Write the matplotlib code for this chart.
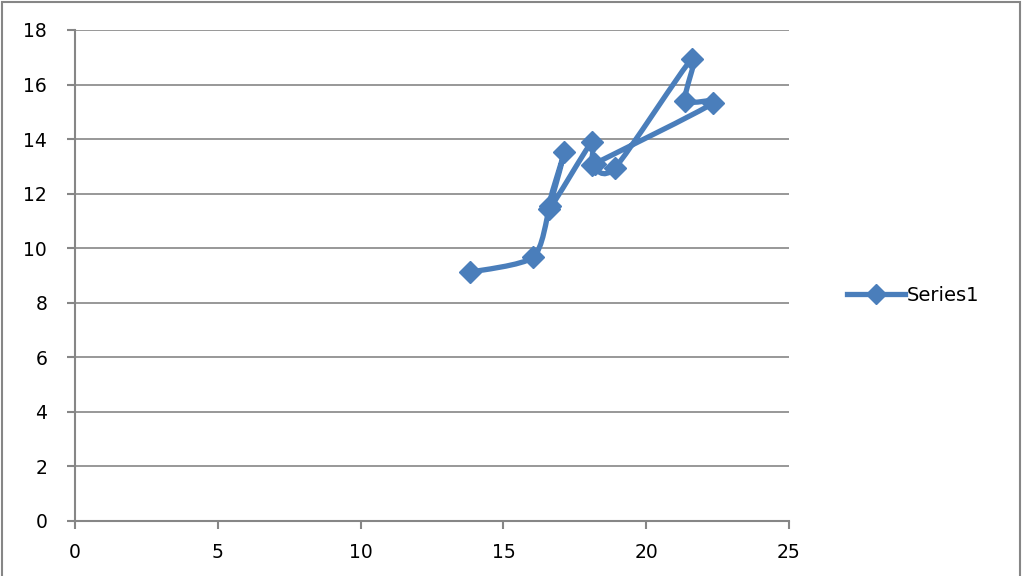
import numpy as np
import matplotlib.pyplot as plt
from matplotlib.path import Path
from matplotlib.patches import PathPatch, Rectangle

# data (in plotting order)
x_vals = [13.83, 16.04, 16.63, 17.14, 16.6, 18.09, 18.12, 18.91, 21.6, 21.36, 22.33, 18.2]
y_vals = [9.12, 9.67, 11.56, 13.51, 11.45, 13.88, 13.04, 12.95, 16.94, 15.4, 15.31, 13.1]
x_ticks = [0, 5, 10, 15, 20, 25]
y_ticks = [0, 2, 4, 6, 8, 10, 12, 14, 16, 18]
series_name = "Series1"

blue = "#4A7EBB"
grey = "#868686"


def smooth_path(xs, ys):
    # excel style smoothed line: cubic bezier through every point
    pts = np.column_stack([xs, ys])
    n = len(pts)
    verts = [pts[0]]
    codes = [Path.MOVETO]
    for i in range(n - 1):
        p0 = pts[max(i - 1, 0)]
        p1 = pts[i]
        p2 = pts[i + 1]
        p3 = pts[min(i + 2, n - 1)]
        c1 = p1 + (p2 - p0) / 8.0
        c2 = p2 - (p3 - p1) / 8.0
        verts += [c1, c2, p2]
        codes += [Path.CURVE4] * 3
    return Path(verts, codes)


fig = plt.figure(figsize=(10.24, 5.76), dpi=100)
ax = fig.add_axes([0.0732, 0.0955, 0.6973, 0.8525])

# chart border
fig.patches.append(Rectangle((0.002, -0.01), 0.994, 1.006, transform=fig.transFigure,
                             fill=False, edgecolor=grey, linewidth=1.5))

ax.add_patch(PathPatch(smooth_path(x_vals, y_vals), facecolor="none", edgecolor=blue,
                       linewidth=3.8, capstyle="round", joinstyle="round", zorder=3))
ax.plot(x_vals, y_vals, linestyle="none", marker="D", markersize=11, color=blue, zorder=4)

# proxy for legend
ax.plot([], [], color=blue, linewidth=3.8, marker="D", markersize=10, label=series_name)

ax.set_xlim(0, 25)
ax.set_ylim(0, 18)
ax.set_xticks(x_ticks)
ax.set_yticks(y_ticks)
ax.grid(axis="y", color=grey, linewidth=1.2)
ax.set_axisbelow(True)

for side in ["top", "right"]:
    ax.spines[side].set_visible(False)
for side in ["left", "bottom"]:
    ax.spines[side].set_color(grey)
    ax.spines[side].set_linewidth(1.5)

ax.tick_params(axis="both", colors=grey, width=1.5, length=6, labelsize=13.5, labelcolor="black")
ax.tick_params(axis="x", pad=10)
ax.tick_params(axis="y", pad=14)

fig.legend(loc="center left", bbox_to_anchor=(0.81, 0.487), frameon=False,
           fontsize=14, handlelength=3, handletextpad=0.1)

fig.savefig("out.png", dpi=100)
